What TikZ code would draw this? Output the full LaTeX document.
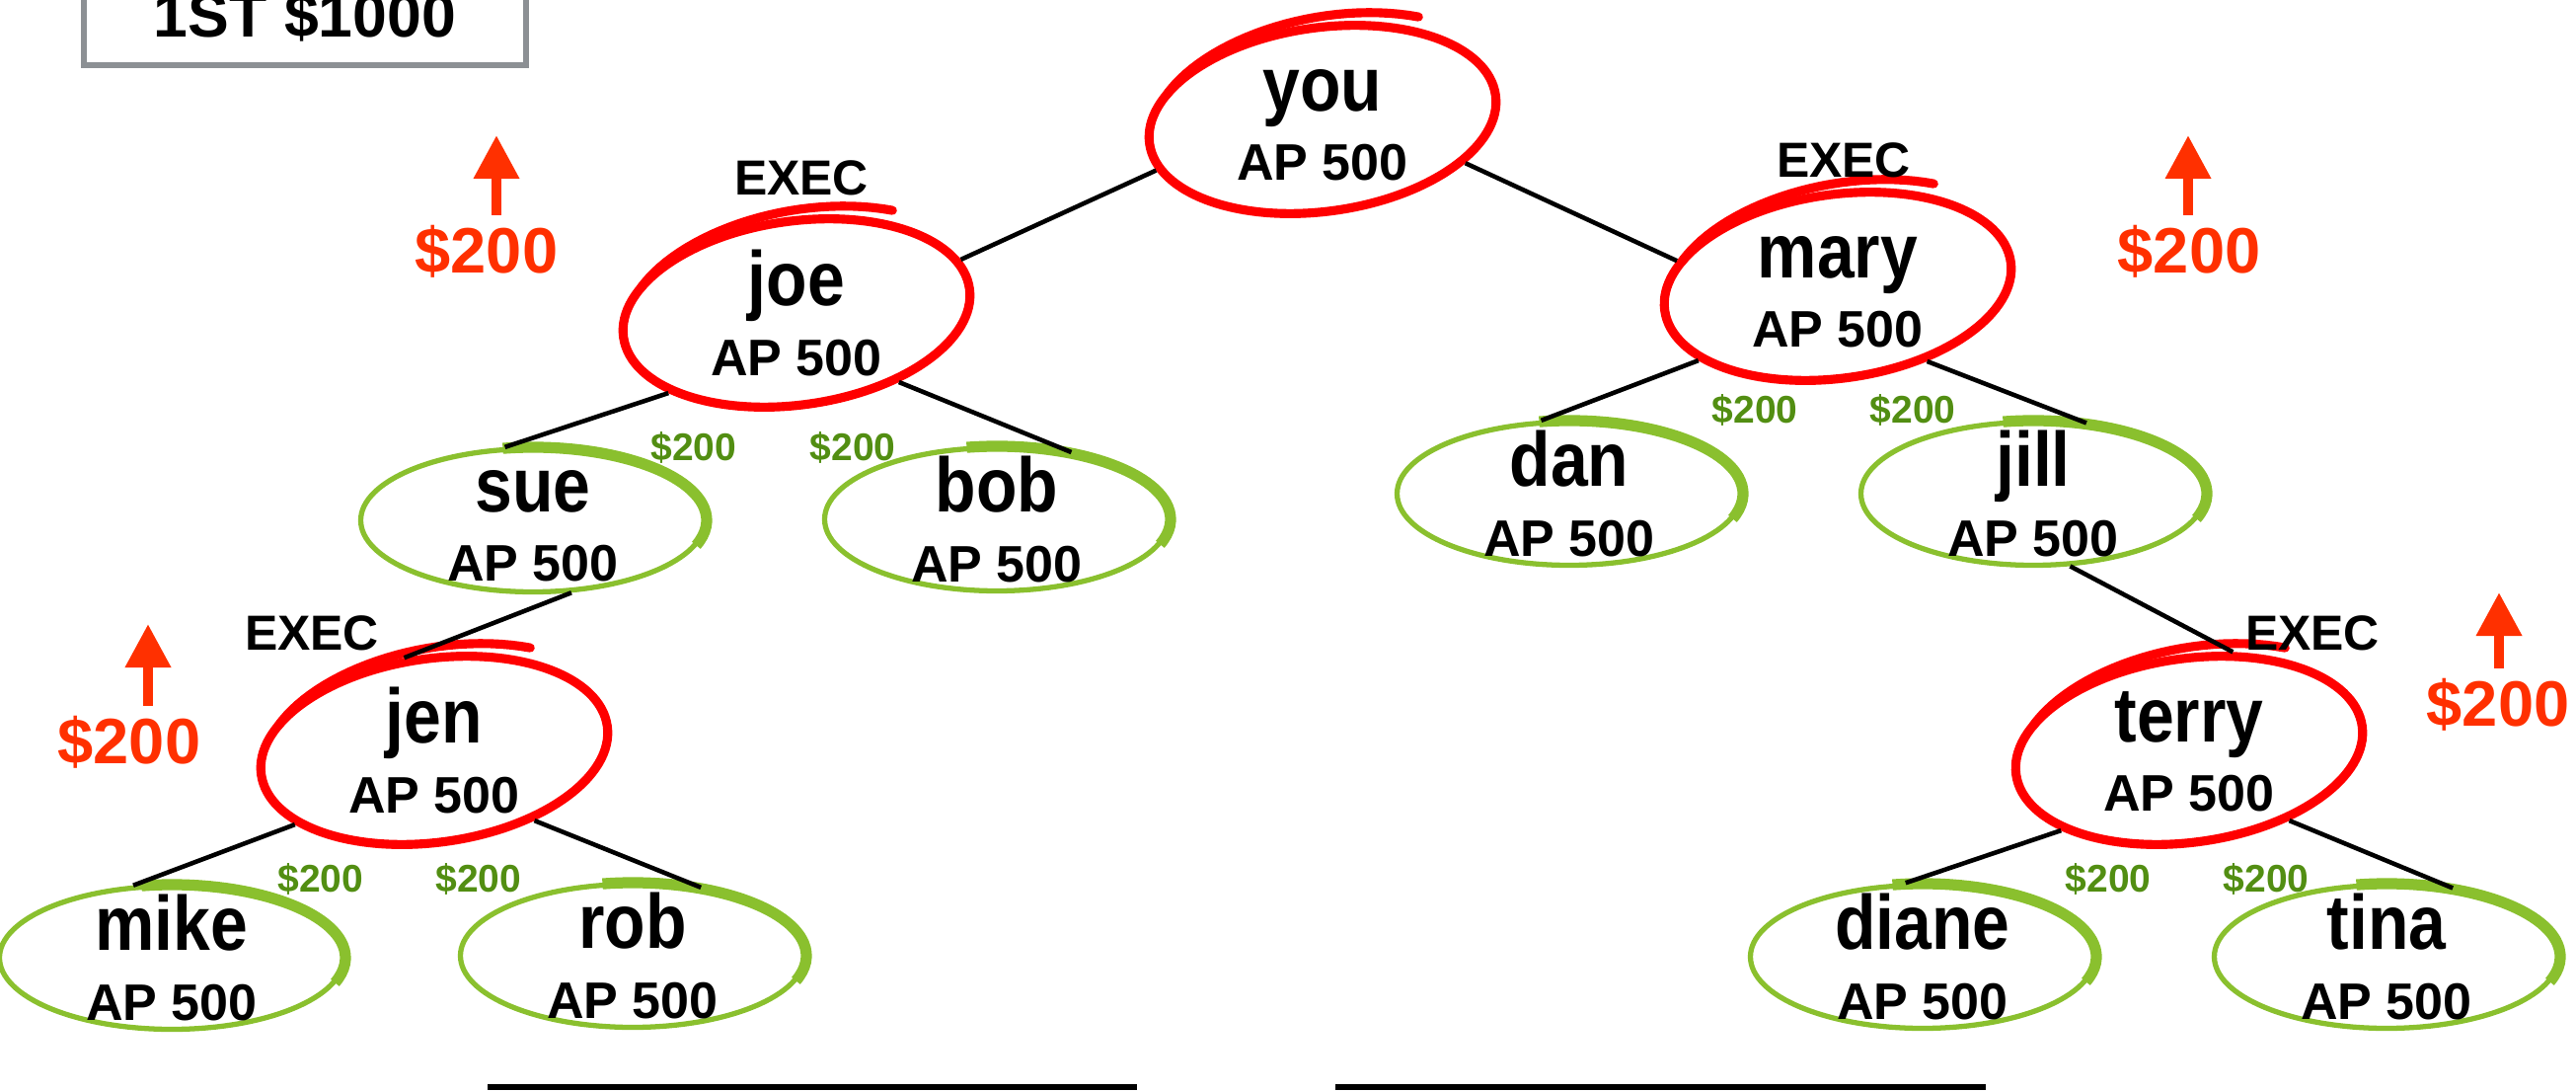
\documentclass[tikz,border=0pt]{standalone}
\usepackage{fontspec}
\setmainfont{Liberation Sans}
\newfontfamily\namefont[FakeStretch=0.87]{Liberation Sans}
\usetikzlibrary{arrows.meta,shapes.geometric}

\definecolor{ringred}{RGB}{255,0,0}
\definecolor{bonusred}{RGB}{255,48,0}
\definecolor{leafgreen}{RGB}{138,192,46}
\definecolor{cashgreen}{RGB}{82,142,18}
\definecolor{boxgray}{RGB}{140,144,148}

\begin{document}
\begin{tikzpicture}[>={Triangle[width=4.4mm,length=4.4mm]}, font=\bfseries,
		execring/.style={ellipse, draw=ringred, line width=2.6pt, minimum width=3.54cm,
			minimum height=1.86cm, inner sep=0pt, rotate=8},
		leafring/.style={ellipse, draw=leafgreen, line width=1.5pt, minimum width=3.49cm,
			minimum height=1.45cm, inner sep=0pt},
		memberlabel/.style={align=center, inner sep=0pt, font=\bfseries\fontsize{14.8}{20}\selectfont},
		who/.style={label={[memberlabel]center:{{\namefont\bfseries\fontsize{22.2}{20}\selectfont\vphantom{A}#1}\\AP 500}}},
		exectag/.style={inner sep=0pt, font=\bfseries\fontsize{14.2}{16}\selectfont},
		bonus/.style={inner sep=0pt, text=bonusred, font=\bfseries\fontsize{18.5}{20}\selectfont},
		cash/.style={inner sep=0pt, text=cashgreen, font=\bfseries\fontsize{11.1}{13}\selectfont},
		bonusarrow/.style={->, draw=bonusred, line width=0.1cm, shorten <=0.1cm},
		brush/.style={draw=leafgreen, line width=3.2pt},
		flourish/.style={draw=ringred, line width=2.6pt, line cap=round},
		link/.style={line width=1.3pt},
		titlebox/.style={draw=boxgray, line width=1.7pt, minimum width=4.48cm, text height=1cm,
			text depth=0pt, inner ysep=0.29cm, font=\bfseries\fontsize{17.8}{20}\selectfont},
		signline/.style={line width=1.5pt}]

		\useasboundingbox (0,0) rectangle (26.10,-11.06);

		\node[titlebox, anchor=south] (first) at (3.09,-0.69) {1ST \$1000};

		% the tree
		\node[execring, who=you] (you) at (13.40,-1.21) {};
		\node[execring, who=joe] (joe) at (8.07,-3.17) {};
		\node[execring, who=mary] (mary) at (18.62,-2.90) {};
		\node[leafring, who=sue] (sue) at (5.40,-5.27) {};
		\node[leafring, who=bob] (bob) at (10.10,-5.26) {};
		\node[leafring, who=dan] (dan) at (15.90,-5.00) {};
		\node[leafring, who=jill] (jill) at (20.60,-5.00) {};
		\node[execring, who=jen] (jen) at (4.40,-7.60) {};
		\node[execring, who=terry] (terry) at (22.18,-7.60) {};
		\node[leafring, who=mike] (mike) at (1.74,-9.70) {};
		\node[leafring, who=rob] (rob) at (6.41,-9.68) {};
		\node[leafring, who=diane] (diane) at (19.48,-9.69) {};
		\node[leafring, who=tina] (tina) at (24.18,-9.69) {};

		% pen strokes
		\foreach \n in {you,joe,mary,jen,terry}{
			\begin{scope}[shift={(\n.center)}, rotate=8]
				\draw[flourish] plot[domain=150:55, samples=30]
					({(1.77+0.0017*(150-\x))*cos(\x)}, {(0.93+0.0017*(150-\x))*sin(\x)});
			\end{scope}
		}
		\foreach \n in {sue,bob,dan,jill,mike,rob,diane,tina}
			\draw[brush] (\n.center) ++(100:1.76 and 0.74)
				arc[start angle=100, end angle=-20, x radius=1.76, y radius=0.74];

		\path[link]
		(you.189)   edge (joe.10)
		(you.335)   edge (mary.163)
		(joe.204)   edge (sue.111)
		(joe.318)   edge (bob.42)
		(mary.200)  edge (dan.111)
		(mary.312)  edge (jill.53)
		(sue.298)   edge (jen.100)
		(jen.200)   edge (mike.118)
		(jen.317)   edge (rob.45)
		(jill.297)  edge (terry.58)
		(terry.204) edge (diane.103)
		(terry.317) edge (tina.46);

		\node[exectag] (joeexec) at (8.12,-1.80) {EXEC};
		\node[exectag] (maryexec) at (18.68,-1.62) {EXEC};
		\node[exectag] (jenexec) at (3.16,-6.41) {EXEC};
		\node[exectag] (terryexec) at (23.43,-6.41) {EXEC};

		\node[cash] (joesue) at (7.03,-4.53) {\$200};
		\node[cash] (joebob) at (8.64,-4.53) {\$200};
		\node[cash] (marydan) at (17.78,-4.15) {\$200};
		\node[cash] (maryjill) at (19.38,-4.15) {\$200};
		\node[cash] (jenmike) at (3.25,-8.90) {\$200};
		\node[cash] (jenrob) at (4.85,-8.90) {\$200};
		\node[cash] (terrydiane) at (21.36,-8.90) {\$200};
		\node[cash] (terrytina) at (22.96,-8.90) {\$200};

		% bonuses
		\node[bonus] (joebonus) at (4.93,-2.55) {\$200};
		\node[bonus] (marybonus) at (22.18,-2.55) {\$200};
		\node[bonus] (jenbonus) at (1.31,-7.52) {\$200};
		\node[bonus] (terrybonus) at (25.31,-7.14) {\$200};
		\coordinate (joetip) at (5.03,-1.37);
		\coordinate (marytip) at (22.17,-1.37);
		\coordinate (jentip) at (1.50,-6.32);
		\coordinate (terrytip) at (25.32,-6.00);
		\draw[bonusarrow] (joetip |- joebonus.north) -- (joetip);
		\draw[bonusarrow] (marytip |- marybonus.north) -- (marytip);
		\draw[bonusarrow] (jentip |- jenbonus.north) -- (jentip);
		\draw[bonusarrow] (terrytip |- terrybonus.north) -- (terrytip);

		\draw[signline] (4.94,-11.01) -- (11.52,-11.01);
		\draw[signline] (13.53,-11.01) -- (20.12,-11.01);
\end{tikzpicture}
\end{document}
